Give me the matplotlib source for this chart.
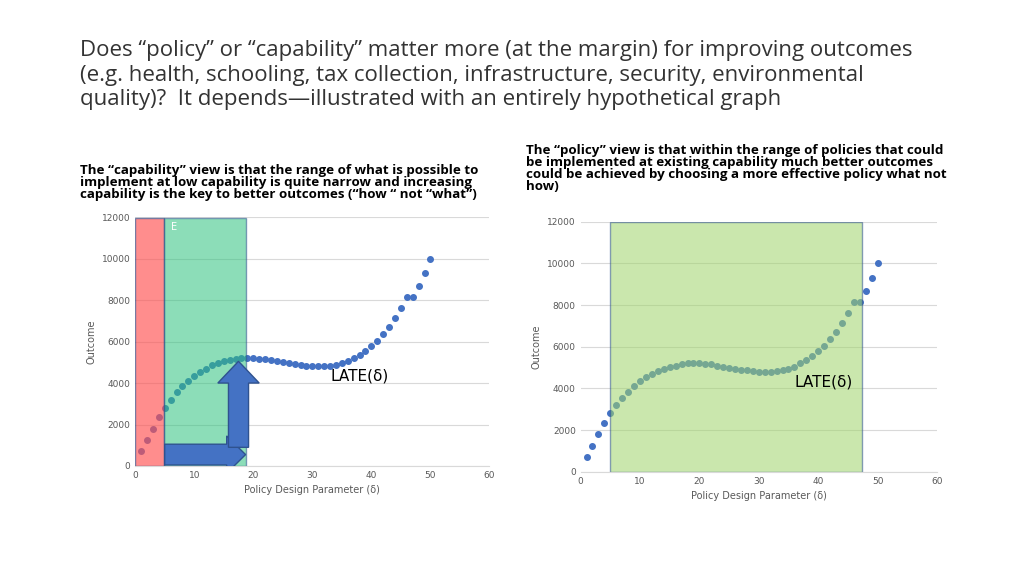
import matplotlib.pyplot as plt
from matplotlib.patches import Rectangle, FancyArrow

delta = list(range(1, 51))
outcome = [700, 1250, 1800, 2350, 2800, 3200, 3550, 3850, 4100, 4350,
           4550, 4700, 4850, 4950, 5050, 5100, 5150, 5200, 5200, 5200,
           5180, 5150, 5100, 5050, 5000, 4950, 4900, 4870, 4830, 4800,
           4800, 4800, 4820, 4870, 4950, 5050, 5200, 5350, 5550, 5800,
           6050, 6350, 6700, 7150, 7600, 8150, 8700, 9300, 10000, 10000]
outcome = outcome[:48] + [9300, 10000]
outcome[46] = 8150
outcome[47] = 8700
yticks = [0, 2000, 4000, 6000, 8000, 10000, 12000]
xticks = [0, 10, 20, 30, 40, 50, 60]

fig = plt.figure(figsize=(10.24, 5.76), dpi=100)
fs = "Open Sans"

fig.text(0.078, 0.93, "Does \u201cpolicy\u201d or \u201ccapability\u201d matter more (at the margin) for improving outcomes\n"
         "(e.g. health, schooling, tax collection, infrastructure, security, environmental\n"
         "quality)?  It depends\u2014illustrated with an entirely hypothetical graph",
         fontsize=16, family=fs, va="top", color="#333333", linespacing=1.2)
fig.text(0.078, 0.715, "The \u201ccapability\u201d view is that the range of what is possible to\n"
         "implement at low capability is quite narrow and increasing\n"
         "capability is the key to better outcomes (\u201chow \u201c not \u201cwhat\u201d)",
         fontsize=9.6, weight="bold", family=fs, va="top", linespacing=0.9)
fig.text(0.514, 0.75, "The \u201cpolicy\u201d view is that within the range of policies that could\n"
         "be implemented at existing capability much better outcomes\n"
         "could be achieved by choosing a more effective policy what not\n"
         "how)", fontsize=9.6, weight="bold", family=fs, va="top", linespacing=0.9)


def panel(rect):
    ax = fig.add_axes(rect)
    ax.scatter(delta, outcome, s=16, color="#4472C4", zorder=2)
    ax.set_xlim(0, 60)
    ax.set_ylim(0, 12000)
    ax.set_xticks(xticks)
    ax.set_yticks(yticks)
    ax.tick_params(labelsize=6.5, length=0, colors="#595959")
    ax.grid(axis="y", color="#d9d9d9", lw=0.8)
    for s in ax.spines.values():
        s.set_visible(False)
    ax.spines["bottom"].set_visible(True)
    ax.spines["bottom"].set_color("#d9d9d9")
    ax.set_xlabel("Policy Design Parameter (\u03b4)", fontsize=7, color="#595959")
    ax.set_ylabel("Outcome", fontsize=7, color="#595959")
    return ax


ax1 = panel([0.132, 0.191, 0.346, 0.432])
ax1.add_patch(Rectangle((0, 0), 4.8, 11950, facecolor="#ff5050", alpha=0.65,
                        edgecolor="#2f528f", lw=1, zorder=3))
ax1.add_patch(Rectangle((4.8, 0), 13.9, 11950, facecolor="#2ec27e", alpha=0.55,
                        edgecolor="#2f528f", lw=1, zorder=3))
ax1.text(6, 11400, "E", color="white", fontsize=7, zorder=4)
ax1.add_patch(FancyArrow(5, 550, 10.5, 0, width=1000, head_width=1800, head_length=3.2,
                         facecolor="#4472C4", edgecolor="#2f528f", zorder=4))
ax1.add_patch(FancyArrow(17.5, 900, 0, 3100, width=3.4, head_width=7, head_length=1050,
                         facecolor="#4472C4", edgecolor="#2f528f", zorder=4))
ax1.text(38, 4100, "LATE(\u03b4)", fontsize=11, ha="center")

ax2 = panel([0.567, 0.181, 0.348, 0.434])
ax2.add_patch(Rectangle((5, 0), 42.4, 12000, facecolor="#9fd46a", alpha=0.55,
                        edgecolor="#2f528f", lw=1, zorder=3))
ax2.text(41, 4100, "LATE(\u03b4)", fontsize=11, ha="center")

fig.savefig("out.png", dpi=100)
